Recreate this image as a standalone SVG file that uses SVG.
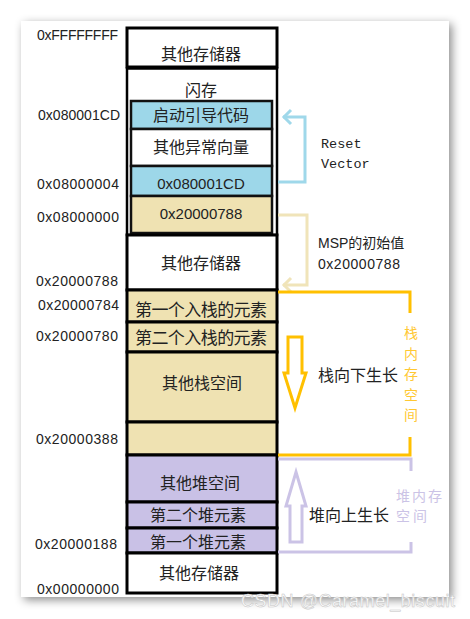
<svg xmlns="http://www.w3.org/2000/svg" width="470" height="619" viewBox="0 0 470 619">
<defs>
<filter id="sh" x="-10%" y="-10%" width="120%" height="120%">
<feDropShadow dx="3" dy="3" stdDeviation="5" flood-color="#000" flood-opacity="0.45"/>
</filter>
<style>
.addr{font-family:"Liberation Sans",Arial,sans-serif;font-size:14px;fill:#222}
.cn{font-family:"Noto Sans CJK SC","Liberation Sans",sans-serif;font-size:16px;fill:#222;text-anchor:middle}
.box{stroke:#000;stroke-width:3}
.inner{stroke:#111;stroke-width:2.5}
.w{fill:#fff}.b{fill:#9dd7e9}.y{fill:#efe2b2}.p{fill:#c9c1e6}
.mono{font-family:"Liberation Mono","DejaVu Sans Mono",monospace;font-size:13.5px;fill:#222}
.lbl{font-family:"Liberation Sans","Noto Sans CJK SC",sans-serif;font-size:14px;fill:#222}
.conn{fill:none;stroke-width:3}
.vt{font-family:"Noto Sans CJK SC",sans-serif;font-size:14px;fill:#ffc833;text-anchor:middle}
.ht{font-family:"Noto Sans CJK SC",sans-serif;font-size:14px;fill:#cbc3e6}
</style>
</defs>
<rect width="470" height="619" fill="#fff"/>
<rect x="21" y="21" width="428" height="576" fill="#fff" filter="url(#sh)"/>

<g id="addresses">
<text class="addr" x="37" y="40" textLength="81">0xFFFFFFFF</text>
<text class="addr" x="38" y="120" textLength="82">0x080001CD</text>
<text class="addr" x="37" y="189" textLength="82">0x08000004</text>
<text class="addr" x="37" y="222" textLength="82">0x08000000</text>
<text class="addr" x="36" y="286" textLength="82">0x20000788</text>
<text class="addr" x="38" y="310" textLength="81">0x20000784</text>
<text class="addr" x="36" y="341" textLength="82">0x20000780</text>
<text class="addr" x="36" y="444" textLength="82">0x20000388</text>
<text class="addr" x="35" y="549" textLength="82">0x20000188</text>
<text class="addr" x="37" y="594" textLength="82">0x00000000</text>
</g>

<g id="mem-top"><rect class="box w" x="127" y="28" width="150" height="39"/><text class="cn" x="201" y="60">其他存储器</text></g>
<g id="flash"><rect class="box w" x="127" y="68.5" width="150" height="166.5" style="stroke-width:2.5"/><text class="cn" x="201" y="96">闪存</text></g>
<g id="boot"><rect class="inner b" x="131" y="101" width="141" height="28"/><text class="cn" x="201" y="121">启动引导代码</text></g>
<g id="vectors"><rect class="inner w" x="131" y="129" width="141" height="37"/><text class="cn" x="201" y="153">其他异常向量</text></g>
<g id="resetvec"><rect class="inner b" x="131" y="166" width="141" height="30"/><text class="cn" x="201" y="189" style="font-family:'Liberation Sans',sans-serif;font-size:15px">0x080001CD</text></g>
<g id="msp"><rect class="inner y" x="131" y="196" width="141" height="37"/><text class="cn" x="201" y="219" style="font-family:'Liberation Sans',sans-serif;font-size:15px">0x20000788</text></g>

<g id="mem-mid"><rect class="box w" x="127" y="235" width="150" height="55"/><text class="cn" x="201" y="269">其他存储器</text></g>
<g id="stack1"><rect class="box y" x="127" y="290" width="150" height="32"/><text class="cn" x="201" y="316" style="font-size:17px" textLength="132">第一个入栈的元素</text></g>
<g id="stack2"><rect class="box y" x="127" y="322" width="150" height="30"/><text class="cn" x="201" y="344" style="font-size:17px" textLength="132">第二个入栈的元素</text></g>
<g id="stack-other"><rect class="box y" x="127" y="352" width="150" height="70"/><text class="cn" x="202" y="389">其他栈空间</text></g>
<g id="stack-end"><rect class="box y" x="127" y="422" width="150" height="33"/></g>
<g id="heap-other"><rect class="box p" x="127" y="455" width="150" height="47"/><text class="cn" x="200" y="489">其他堆空间</text></g>
<g id="heap2"><rect class="box p" x="127" y="502" width="150" height="26"/><text class="cn" x="198" y="521">第二个堆元素</text></g>
<g id="heap1"><rect class="box p" x="127" y="528" width="150" height="25"/><text class="cn" x="198" y="548">第一个堆元素</text></g>
<g id="mem-bot"><rect class="box w" x="127" y="553" width="150" height="40"/><text class="cn" x="199" y="579">其他存储器</text></g>

<g id="connectors">
<polyline class="conn" stroke="#9fd8ea" points="278,182 305,182 305,117 283,117"/>
<polyline class="conn" stroke="#9fd8ea" points="291,110 284,117 291,124"/>
<polyline class="conn" stroke="#f0e4b9" points="278,215 307,215 307,285 283,285"/>
<polyline class="conn" stroke="#f0e4b9" points="291,278 284,285 291,292"/>
<polyline class="conn" stroke="#ffc000" points="278,292 410,292 410,313"/>
<polyline class="conn" stroke="#ffc000" points="410,437 410,455 278,455"/>
<polyline class="conn" stroke="#cbc3e6" points="278,459 411,459 411,471"/>
<polyline class="conn" stroke="#cbc3e6" points="411,542 411,552 278,552"/>
<polygon fill="#fff" stroke="#ffc000" stroke-width="3" points="288,337 302,337 302,373 306,373 295,408 284,373 288,373"/>
<polygon fill="#fff" stroke="#cbc3e6" stroke-width="3" points="296,472 306,506 302,506 302,542 290,542 290,506 286,506"/>
</g>

<g id="labels">
<text class="mono" x="321" y="148">Reset</text>
<text class="mono" x="321" y="168">Vector</text>
<text class="lbl" x="318" y="248">MSP的初始值</text>
<text class="lbl" x="318" y="269" textLength="82">0x20000788</text>
<text class="cn" x="358" y="381">栈向下生长</text>
<text class="cn" x="349" y="521">堆向上生长</text>
<text class="vt" x="411" y="338">栈</text>
<text class="vt" x="411" y="358.5">内</text>
<text class="vt" x="411" y="379">存</text>
<text class="vt" x="411" y="399.5">空</text>
<text class="vt" x="411" y="420">间</text>
<text class="ht" x="396" y="501" textLength="46">堆内存</text>
<text class="ht" x="396" y="521" textLength="31">空间</text>
</g>

<text x="241" y="607" style="font-family:'Liberation Sans',Arial,sans-serif;font-size:18px;fill:#fff;stroke:#c4c4c4;stroke-width:0.5" textLength="214">CSDN @Caramel_biscuit</text>
</svg>
